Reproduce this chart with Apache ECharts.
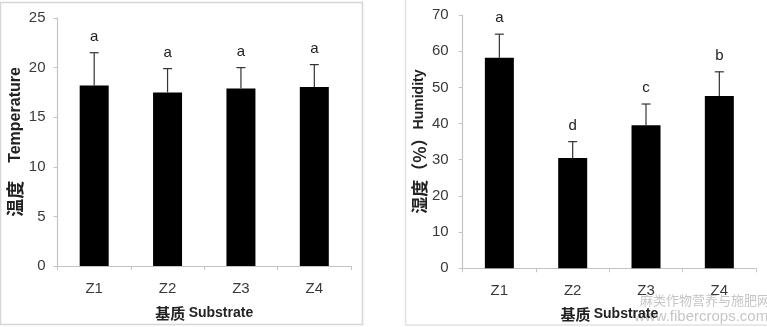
<!DOCTYPE html>
<html>
<head>
<meta charset="utf-8">
<script src="https://cdn.jsdelivr.net/npm/echarts@6/dist/echarts.min.js"></script>
<style>
  html, body { margin: 0; padding: 0; background: #fff; }
  #chart { width: 767px; height: 327px; }
</style>
</head>
<body>
<div id="chart"></div>
<script>
// Substrate treatments
const categories = ['Z1', 'Z2', 'Z3', 'Z4'];

// Temperature (mean, upper error bound, significance letter)
const tempMean = [18.2, 17.5, 17.9, 18.05];
const tempErrTop = [21.5, 19.9, 20.0, 20.3];
const tempLetters = ['a', 'a', 'a', 'a'];

// Humidity % (mean, upper error bound, significance letter)
const humMean = [58.2, 30.5, 39.5, 47.6];
const humErrTop = [64.7, 35.0, 45.4, 54.3];
const humLetters = ['a', 'd', 'c', 'b'];

const tempTicks = { min: 0, max: 25, interval: 5 };
const humTicks = { min: 0, max: 70, interval: 10 };

const axisGray = '#c4c4c4';
const labelGray = '#3a3a3a';
const baseFont = 'Liberation Sans, Arial, sans-serif';
const cjkFont = '"Noto Sans CJK SC", sans-serif';

function errData(means, tops) {
  return means.map((m, i) => [i, m, tops[i]]);
}

// Upper-only error bar with cap, plus the significance letter above it
function makeErrRenderer(letters) {
  return function (params, api) {
    const base = api.coord([api.value(0), api.value(1)]);
    const top = api.coord([api.value(0), api.value(2)]);
    const half = 4.5;
    return {
      type: 'group',
      children: [
        { type: 'line', shape: { x1: base[0], y1: base[1], x2: top[0], y2: top[1] },
          style: { stroke: '#333', lineWidth: 1.2 } },
        { type: 'line', shape: { x1: top[0] - half, y1: top[1], x2: top[0] + half, y2: top[1] },
          style: { stroke: '#333', lineWidth: 1.2 } },
        { type: 'text', x: top[0], y: top[1] - 16,
          style: { text: letters[params.dataIndex], fill: '#222', font: '15px ' + baseFont,
                   align: 'center', verticalAlign: 'middle' } }
      ]
    };
  };
}

function xAxisCfg(gridIndex, nameGap) {
  return {
    type: 'category', gridIndex, data: categories,
    name: '{c|基质} {e|Substrate}', nameLocation: 'middle', nameGap,
    nameTextStyle: { rich: {
      c: { fontFamily: cjkFont, fontWeight: 'bold', fontSize: 15, color: '#222' },
      e: { fontFamily: baseFont, fontWeight: 'bold', fontSize: 14, color: '#222' } } },
    axisLine: { lineStyle: { color: axisGray, width: 1.2 } },
    axisTick: { show: true, length: 4, lineStyle: { color: axisGray } },
    axisLabel: { color: labelGray, fontSize: 15, fontFamily: baseFont, margin: 15 },
    splitLine: { show: false }
  };
}

function yAxisCfg(gridIndex, ticks, cn, en, cnSize, enSize, nameGap, labelMargin) {
  return {
    type: 'value', gridIndex, min: ticks.min, max: ticks.max, interval: ticks.interval,
    name: '{c|' + cn + '}{e|' + en + '}', nameLocation: 'middle', nameRotate: 90, nameGap,
    nameTextStyle: { rich: {
      c: { fontFamily: cjkFont, fontWeight: 'bold', fontSize: cnSize, color: '#222' },
      e: { fontFamily: baseFont, fontWeight: 'bold', fontSize: enSize, color: '#222' } } },
    axisLine: { show: true, lineStyle: { color: axisGray, width: 1.2 } },
    axisTick: { show: true, length: 4, inside: false, lineStyle: { color: axisGray } },
    axisLabel: { color: labelGray, fontSize: 15, fontFamily: baseFont, margin: labelMargin },
    splitLine: { show: false }
  };
}

const chart = echarts.init(document.getElementById('chart'), null, { renderer: 'canvas' });
chart.setOption({
  backgroundColor: '#fff',
  animation: false,
  grid: [
    { left: 57.5, right: 416, top: 18, bottom: 61 },
    { left: 462.7, right: 11, top: 15, bottom: 58.7 }
  ],
  xAxis: [xAxisCfg(0, 40), xAxisCfg(1, 38)],
  yAxis: [
    yAxisCfg(0, tempTicks, '温度\u3000', 'Temperature', 18, 16, 33, 12),
    yAxisCfg(1, humTicks, '湿度（%）', 'Humidity', 17, 14, 35, 14)
  ],
  graphic: [
    { type: 'rect', shape: { x: 0.5, y: 2.5, width: 362, height: 322 },
      style: { fill: 'none', stroke: '#d6d6d6', lineWidth: 1.5 }, z: -1 },
    { type: 'line', shape: { x1: 405.5, y1: 0, x2: 405.5, y2: 325 },
      style: { stroke: '#e2e2e2', lineWidth: 1.5 }, z: -1 },
    { type: 'line', shape: { x1: 405.5, y1: 325, x2: 767, y2: 325 },
      style: { stroke: '#e2e2e2', lineWidth: 1.5 }, z: -1 },
    { type: 'text', x: 640, y: 300, z: -1,
      style: { text: '麻类作物营养与施肥网', fill: '#c6c6c6',
               font: '13px ' + cjkFont, verticalAlign: 'middle' } },
    { type: 'text', x: 634, y: 317, z: -1,
      style: { text: 'www.fibercrops.com', fill: '#c6c6c6',
               font: '15px ' + baseFont, verticalAlign: 'middle' } }
  ],
  series: [
    { type: 'bar', xAxisIndex: 0, yAxisIndex: 0, data: tempMean, barWidth: 29,
      itemStyle: { color: '#000' } },
    { type: 'custom', xAxisIndex: 0, yAxisIndex: 0, renderItem: makeErrRenderer(tempLetters),
      data: errData(tempMean, tempErrTop), z: 5 },
    { type: 'bar', xAxisIndex: 1, yAxisIndex: 1, data: humMean, barWidth: 29,
      itemStyle: { color: '#000' } },
    { type: 'custom', xAxisIndex: 1, yAxisIndex: 1, renderItem: makeErrRenderer(humLetters),
      data: errData(humMean, humErrTop), z: 5 }
  ]
});
</script>
</body>
</html>
